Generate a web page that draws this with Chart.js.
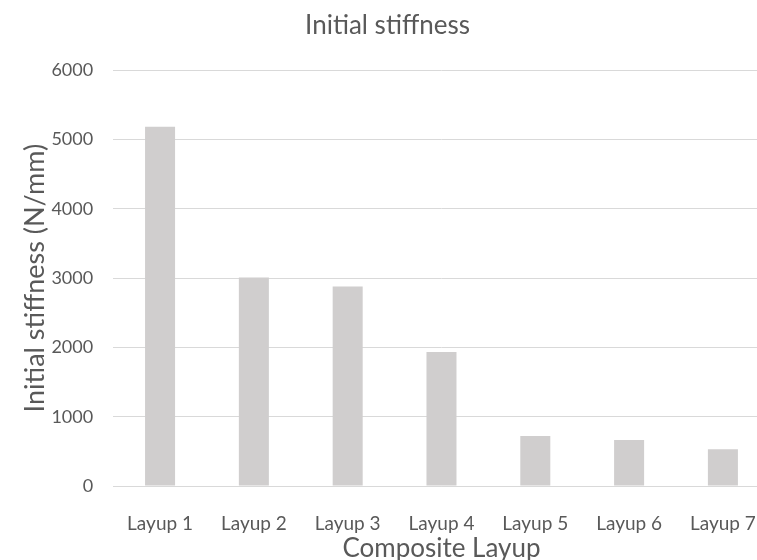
<!DOCTYPE html>
<html>
<head>
<meta charset="utf-8">
<script src="https://cdn.jsdelivr.net/npm/chart.js@4/dist/chart.umd.min.js"></script>
<style>
  html, body { margin: 0; padding: 0; background: #fff; overflow: hidden; }
  #wrap { width: 774px; height: 566px; position: relative; }
</style>
</head>
<body>
<div id="wrap"><canvas id="c"></canvas></div>
<script>
const categories = ['Layup 1', 'Layup 2', 'Layup 3', 'Layup 4', 'Layup 5', 'Layup 6', 'Layup 7'];
const stiffness = [5185, 3010, 2880, 1935, 720, 665, 530];
const yTicks = [0, 1000, 2000, 3000, 4000, 5000, 6000];

const FONT = 'Lato, "Open Sans", sans-serif';
const TEXT = '#595959';
const GRID = '#d9d9d9';

new Chart(document.getElementById('c'), {
  type: 'bar',
  data: {
    labels: categories,
    datasets: [{
      label: 'Initial stiffness',
      data: stiffness,
      backgroundColor: '#d0cece',
      borderWidth: 0,
      categoryPercentage: 1,
      barPercentage: 0.32
    }]
  },
  options: {
    responsive: true,
    maintainAspectRatio: false,
    animation: false,
    layout: { padding: { top: 0, right: 2, bottom: 0, left: 3 } },
    plugins: {
      legend: { display: false },
      tooltip: { enabled: false },
      title: {
        display: true,
        text: 'Initial stiffness',
        color: TEXT,
        font: { family: FONT, size: 26, weight: 'normal' },
        padding: { top: 10, bottom: 29 }
      }
    },
    scales: {
      x: {
        grid: { display: false },
        border: { display: true, color: GRID, width: 1 },
        // tick padding is reserved on both sides of the labels, so the title's top padding pulls it back in
        ticks: { color: TEXT, font: { family: FONT, size: 19 }, padding: 18 },
        title: {
          display: true,
          text: 'Composite Layup',
          color: TEXT,
          font: { family: FONT, size: 26 },
          padding: { top: -20, bottom: 2 }
        }
      },
      y: {
        min: 0,
        max: 6000,
        afterBuildTicks: (axis) => { axis.ticks = yTicks.map(v => ({ value: v })); },
        grid: { color: GRID, lineWidth: 1, drawTicks: false },
        border: { display: false },
        ticks: {
          color: TEXT,
          font: { family: FONT, size: 18 },
          padding: 20,
          callback: (v) => String(v)
        },
        title: {
          display: true,
          text: 'Initial stiffness (N/mm)',
          color: TEXT,
          font: { family: FONT, size: 27 },
          padding: { top: 16, bottom: -20 }
        }
      }
    }
  }
});
</script>
</body>
</html>
